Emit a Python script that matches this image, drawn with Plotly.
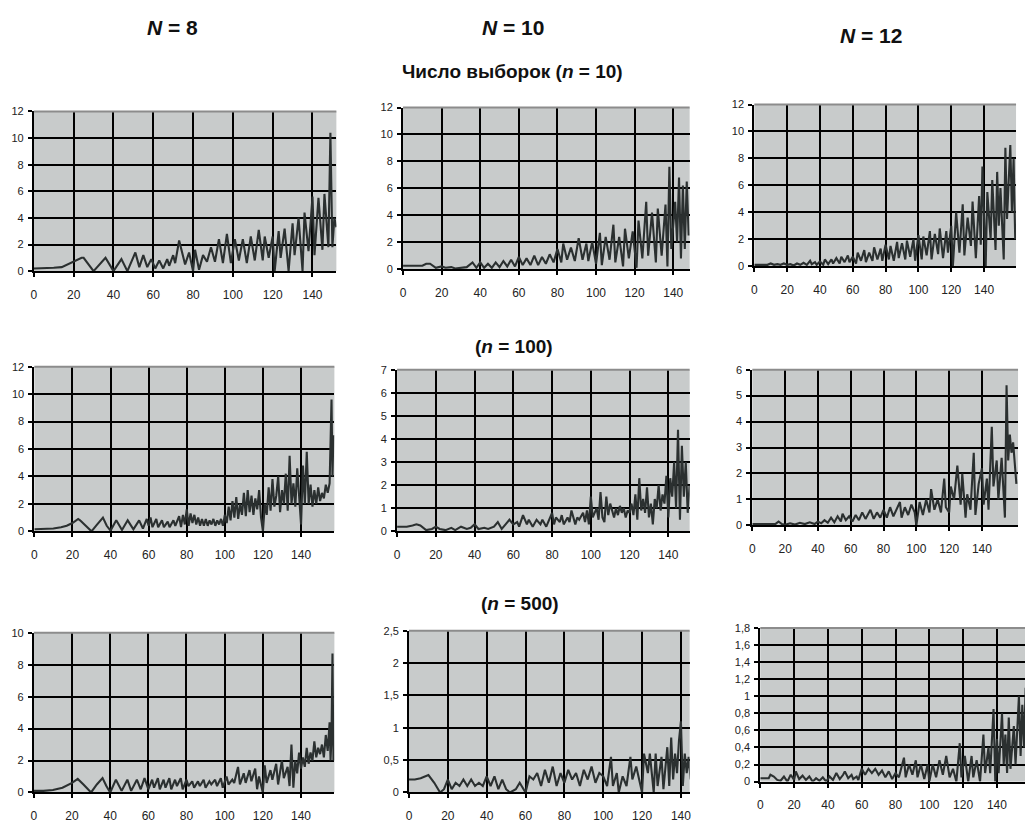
import plotly.graph_objects as go

# ---------------- data ----------------
# Row 1: n = 10
x_n8_s10 = [0, 5, 10, 14, 17, 20, 24, 25, 30, 36,
            40, 44, 47, 51, 53, 55, 57, 59, 61, 63,
            65, 67, 68, 70, 71, 73, 76, 78, 80, 81,
            83, 85, 87, 89, 91, 93, 95, 97, 99, 101,
            103, 105, 107, 109, 111, 113, 115, 116, 118, 120,
            121, 123, 124, 126, 128, 130, 131, 133, 135, 136,
            138, 140, 141, 143, 145, 146, 148, 149, 150, 151,
            152]
y_n8_s10 = [0.2, 0.2, 0.25, 0.3, 0.5, 0.7, 1.0, 1.0, 0.0, 1.0,
            0.0, 0.9, 0.0, 1.4, 0.3, 1.2, 0.3, 0.9, 0.2, 0.8,
            0.2, 0.9, 0.4, 1.2, 0.6, 2.3, 0.5, 1.4, 0.0, 1.6,
            0.1, 1.2, 0.7, 1.8, 0.7, 2.4, 0.6, 2.8, 0.6, 2.4,
            0.8, 2.4, 0.6, 2.6, 0.8, 3.1, 0.8, 2.6, 1.0, 2.6,
            0.0, 3.0, 1.0, 3.2, 0.0, 3.6, 1.2, 4.0, 0.0, 4.4,
            1.5, 5.6, 1.2, 5.5, 1.6, 5.8, 1.8, 10.4, 1.8, 4.0,
            3.3]

x_n10_s10 = [0, 5, 10, 12, 14, 17, 20, 22, 25, 27,
             30, 33, 36, 38, 40, 42, 44, 46, 48, 50,
             52, 54, 56, 58, 60, 62, 64, 66, 68, 70,
             72, 74, 76, 78, 80, 82, 83, 85, 87, 89,
             91, 93, 95, 96, 98, 100, 102, 103, 105, 107,
             109, 110, 112, 114, 115, 117, 119, 121, 122, 124,
             126, 127, 129, 131, 132, 134, 136, 137, 138, 139,
             141, 142, 143, 144, 145, 146, 147, 148]
y_n10_s10 = [0.25, 0.25, 0.25, 0.4, 0.4, 0.1, 0.2, 0.1, 0.15, 0.05,
             0.1, 0.15, 0.5, 0.1, 0.5, 0.1, 0.4, 0.1, 0.5, 0.15,
             0.6, 0.2, 0.7, 0.2, 0.9, 0.3, 0.8, 0.3, 1.0, 0.3,
             0.9, 0.4, 1.1, 0.5, 1.5, 0.5, 1.9, 0.7, 1.6, 0.6,
             2.3, 0.7, 1.9, 0.6, 2.0, 0.4, 2.7, 0.3, 2.4, 0.7,
             3.3, 0.5, 2.4, 0.2, 3.0, 0.8, 2.8, 0.1, 3.6, 0.8,
             5.0, 1.0, 4.2, 0.5, 4.5, 1.0, 4.8, 0.2, 7.6, 1.5,
             5.0, 2.0, 6.8, 0.8, 6.2, 1.5, 6.5, 2.5]

x_n12_s10 = [0, 3, 6, 8, 10, 12, 14, 16, 18, 20,
             22, 24, 26, 28, 30, 32, 34, 35, 37, 38,
             40, 42, 43, 45, 47, 48, 50, 52, 53, 55,
             57, 58, 60, 62, 63, 65, 67, 68, 70, 72,
             73, 75, 77, 78, 80, 82, 83, 85, 87, 88,
             90, 92, 93, 95, 97, 98, 100, 102, 103, 105,
             107, 108, 110, 112, 113, 115, 117, 118, 120, 121,
             123, 125, 127, 128, 130, 132, 133, 135, 137, 138,
             139, 141, 142, 144, 145, 147, 148, 149, 150, 152,
             153, 154, 156, 157, 158, 159]
y_n12_s10 = [0.1, 0.1, 0.15, 0.1, 0.2, 0.1, 0.15, 0.1, 0.2, 0.1,
             0.15, 0.05, 0.2, 0.1, 0.25, 0.1, 0.4, 0.15, 0.3, 0.1,
             0.35, 0.1, 0.5, 0.15, 0.5, 0.2, 0.6, 0.2, 0.7, 0.3,
             0.8, 0.3, 0.7, 0.2, 1.0, 0.4, 1.2, 0.3, 1.0, 0.4,
             1.4, 0.5, 1.3, 0.4, 1.6, 0.5, 1.5, 0.4, 1.8, 0.6,
             1.7, 0.5, 1.9, 0.7, 2.0, 0.4, 2.3, 0.5, 2.2, 0.8,
             2.6, 0.5, 2.4, 0.9, 2.8, 0.6, 2.6, 1.0, 3.0, 0.0,
             4.0, 1.0, 4.6, 0.8, 3.6, 1.5, 4.8, 0.6, 5.2, 1.6,
             7.4, 0.0, 5.5, 2.0, 6.4, 1.2, 7.0, 3.0, 5.8, 0.5,
             8.8, 3.5, 9.0, 4.0, 8.0, 2.0]

# Row 2: n = 100
x_n8_s100 = [0, 5, 10, 14, 17, 20, 23, 24, 27, 30,
             33, 36, 38, 40, 43, 46, 49, 52, 55, 57,
             59, 60, 61, 62, 64, 65, 67, 68, 70, 71,
             73, 74, 76, 77, 78, 79, 80, 81, 82, 83,
             84, 85, 86, 87, 88, 89, 90, 91, 92, 93,
             94, 95, 96, 97, 98, 99, 100, 101, 102, 103,
             104, 105, 106, 107, 108, 109, 110, 111, 112, 113,
             114, 115, 116, 117, 118, 119, 120, 121, 122, 123,
             124, 125, 126, 127, 128, 129, 130, 131, 132, 133,
             134, 135, 136, 137, 138, 139, 140, 141, 142, 143,
             144, 145, 146, 147, 148, 149, 150, 151, 152, 153,
             154, 155, 156, 156.5, 157]
y_n8_s100 = [0.15, 0.15, 0.2, 0.3, 0.4, 0.6, 0.9, 0.8, 0.4, 0.0,
             0.5, 1.0, 0.4, 0.05, 0.8, 0.1, 0.8, 0.15, 0.8, 0.2,
             0.9, 0.4, 1.0, 0.3, 0.9, 0.3, 0.8, 0.3, 0.7, 0.3,
             0.8, 0.4, 1.1, 0.3, 1.2, 0.5, 1.6, 0.4, 1.3, 0.6,
             1.2, 0.5, 1.0, 0.4, 0.9, 0.4, 0.9, 0.4, 0.8, 0.5,
             0.9, 0.4, 0.8, 0.5, 0.9, 0.4, 1.2, 0.6, 1.8, 0.8,
             2.2, 1.0, 2.5, 0.9, 2.0, 1.2, 2.8, 1.1, 3.0, 1.4,
             2.6, 1.2, 2.4, 1.6, 3.0, 1.0, 0.0, 2.0, 1.2, 3.2,
             1.5, 3.8, 1.8, 2.6, 4.0, 1.4, 3.0, 2.0, 4.2, 1.5,
             5.5, 2.0, 3.5, 1.8, 4.6, 2.2, 0.5, 4.8, 2.0, 5.8,
             2.0, 3.4, 1.8, 3.0, 2.0, 3.2, 2.2, 2.8, 2.4, 3.4,
             2.8, 3.5, 9.6, 4.0, 7.0]

x_n10_s100 = [0, 5, 8, 10, 12, 15, 18, 20, 22, 25,
              28, 30, 33, 36, 38, 40, 42, 45, 47, 50,
              52, 54, 56, 58, 60, 62, 63, 65, 67, 68,
              70, 72, 74, 75, 77, 78, 80, 81, 82, 84,
              85, 86, 88, 89, 90, 92, 93, 94, 96, 97,
              98, 99, 100, 101, 102, 103, 104, 105, 106, 107,
              108, 109, 110, 111, 112, 113, 114, 115, 116, 117,
              118, 119, 120, 121, 122, 123, 124, 125, 126, 127,
              128, 129, 130, 131, 132, 133, 134, 135, 136, 137,
              138, 139, 140, 141, 142, 143, 144, 145, 146, 147,
              148, 149, 150, 151]
y_n10_s100 = [0.2, 0.2, 0.25, 0.3, 0.25, 0.05, 0.1, 0.2, 0.1, 0.05,
              0.15, 0.05, 0.2, 0.1, 0.15, 0.3, 0.1, 0.15, 0.1, 0.2,
              0.4, 0.1, 0.3, 0.5, 0.3, 0.4, 0.2, 0.7, 0.3, 0.5,
              0.2, 0.5, 0.3, 0.5, 0.2, 0.4, 0.8, 0.3, 0.6, 0.4,
              0.7, 0.3, 0.6, 0.4, 0.9, 0.3, 0.6, 0.5, 0.8, 0.4,
              0.9, 0.3, 1.5, 0.6, 0.8, 1.0, 0.5, 1.7, 0.6, 0.4,
              1.5, 0.7, 1.2, 0.9, 0.6, 1.0, 0.7, 1.1, 0.8, 1.0,
              0.6, 0.9, 0.8, 1.2, 0.7, 1.6, 0.5, 2.3, 0.9, 1.4,
              0.8, 1.9, 0.6, 1.2, 0.3, 1.4, 1.0, 2.0, 0.9, 1.6,
              1.2, 2.4, 0.6, 2.3, 1.5, 3.0, 1.0, 4.4, 0.5, 3.7,
              1.5, 3.0, 0.8, 2.0]

x_n12_s100 = [0, 5, 10, 14, 16, 18, 20, 23, 26, 29,
              32, 35, 38, 40, 42, 44, 46, 48, 50, 52,
              54, 55, 57, 59, 61, 63, 65, 67, 69, 71,
              72, 74, 76, 78, 80, 82, 84, 86, 88, 90,
              91, 93, 95, 97, 99, 100, 102, 104, 106, 108,
              109, 111, 113, 115, 117, 118, 120, 121, 123, 125,
              127, 128, 130, 131, 133, 135, 136, 138, 140, 141,
              143, 144, 146, 147, 149, 150, 152, 154, 155, 156,
              157, 158, 159, 160, 161]
y_n12_s100 = [0.05, 0.05, 0.05, 0.05, 0.15, 0.05, 0.02, 0.08, 0.03, 0.1,
              0.05, 0.12, 0.05, 0.15, 0.08, 0.2, 0.1, 0.3, 0.12, 0.35,
              0.15, 0.45, 0.2, 0.35, 0.15, 0.4, 0.2, 0.5, 0.25, 0.45,
              0.6, 0.25, 0.5, 0.3, 0.6, 0.3, 0.7, 0.35, 0.6, 0.9,
              0.3, 0.7, 0.4, 0.8, 0.5, 0.0, 0.9, 0.4, 1.0, 0.5,
              1.4, 0.6, 1.0, 0.5, 1.8, 0.7, 0.5, 1.5, 1.0, 2.3,
              0.8, 2.0, 0.3, 1.2, 0.6, 2.8, 0.4, 1.6, 2.2, 0.8,
              1.8, 0.6, 3.8, 1.5, 2.5, 1.0, 2.6, 0.3, 5.4, 2.5,
              3.5, 2.8, 3.2, 2.4, 1.6]

# Row 3: n = 500
x_n8_s500 = [0, 5, 10, 15, 20, 23, 26, 30, 33, 36,
             38, 40, 43, 46, 49, 51, 54, 56, 58, 60,
             62, 63, 65, 66, 68, 69, 71, 72, 74, 75,
             77, 78, 80, 81, 83, 84, 86, 87, 89, 90,
             92, 93, 95, 96, 98, 99, 101, 102, 104, 105,
             107, 108, 110, 111, 113, 114, 116, 117, 118, 120,
             121, 122, 124, 125, 127, 128, 130, 131, 133, 134,
             135, 136, 137, 138, 139, 140, 141, 142, 143, 144,
             145, 146, 147, 148, 149, 150, 151, 152, 153, 154,
             155, 155.5, 156, 156.5, 157]
y_n8_s500 = [0.1, 0.1, 0.15, 0.3, 0.6, 0.85, 0.5, 0.0, 0.5, 0.9,
             0.4, 0.0, 0.8, 0.1, 0.8, 0.1, 0.8, 0.2, 0.9, 0.2,
             0.8, 0.3, 0.9, 0.2, 0.8, 0.3, 0.9, 0.2, 0.8, 0.4,
             0.9, 0.2, 0.8, 0.4, 0.7, 0.3, 0.7, 0.4, 0.8, 0.3,
             0.7, 0.5, 0.8, 0.4, 0.9, 0.3, 1.0, 0.5, 0.8, 0.6,
             1.6, 0.5, 1.2, 0.6, 1.4, 0.7, 1.5, 0.2, 1.0, 0.0,
             1.7, 0.6, 1.4, 0.8, 1.8, 0.5, 2.0, 0.9, 1.6, 0.4,
             3.0, 0.3, 2.0, 1.2, 2.5, 1.5, 2.2, 1.6, 2.8, 1.8,
             2.5, 2.0, 3.2, 2.2, 2.8, 2.4, 3.0, 2.2, 3.6, 2.6,
             4.4, 2.0, 3.5, 8.7, 2.0]

x_n10_s500 = [0, 3, 6, 9, 10, 13, 16, 18, 20, 22,
              24, 26, 28, 30, 32, 34, 36, 38, 40, 42,
              44, 46, 48, 50, 52, 55, 57, 60, 62, 64,
              66, 68, 70, 72, 74, 76, 78, 80, 82, 84,
              86, 88, 90, 92, 94, 96, 98, 100, 102, 104,
              105, 107, 108, 110, 112, 114, 115, 117, 119, 120,
              121, 123, 124, 126, 127, 128, 130, 131, 133, 134,
              135, 136, 137, 138, 139, 140, 141, 142, 143, 144,
              145]
y_n10_s500 = [0.2, 0.2, 0.22, 0.25, 0.27, 0.15, 0.0, 0.05, 0.2, 0.05,
              0.15, 0.1, 0.2, 0.1, 0.2, 0.1, 0.15, 0.1, 0.25, 0.1,
              0.25, 0.05, 0.2, 0.05, 0.0, 0.05, 0.15, 0.0, 0.25, 0.2,
              0.3, 0.1, 0.35, 0.15, 0.4, 0.1, 0.3, 0.15, 0.35, 0.2,
              0.3, 0.1, 0.35, 0.2, 0.4, 0.15, 0.3, 0.25, 0.1, 0.55,
              0.1, 0.3, 0.0, 0.25, 0.1, 0.55, 0.2, 0.4, 0.1, 0.0,
              0.6, 0.3, 0.6, 0.0, 0.6, 0.1, 0.55, 0.05, 0.7, 0.1,
              0.85, 0.2, 0.6, 0.3, 0.8, 1.1, 0.1, 0.6, 0.3, 0.55,
              0.2]

x_n12_s500 = [0, 3, 5, 6, 8, 10, 12, 14, 16, 18,
              20, 21, 23, 25, 27, 29, 31, 33, 35, 37,
              39, 41, 43, 45, 47, 49, 50, 52, 54, 55,
              57, 58, 60, 62, 64, 66, 68, 70, 72, 74,
              76, 78, 80, 82, 85, 86, 88, 90, 92, 93,
              95, 97, 99, 100, 102, 104, 106, 108, 110, 112,
              114, 116, 118, 119, 121, 123, 125, 126, 128, 130,
              132, 133, 135, 136, 138, 139, 140, 141, 143, 144,
              145, 146, 147, 148, 150, 151, 153, 154, 155, 156,
              157]
y_n12_s500 = [0.04, 0.04, 0.04, 0.08, 0.06, 0.02, 0.01, 0.06, 0.0, 0.08,
              0.02, 0.12, 0.03, 0.07, 0.02, 0.06, 0.0, 0.04, 0.01, 0.05,
              0.0, 0.06, 0.02, 0.1, 0.03, 0.08, 0.12, 0.04, 0.08, 0.03,
              0.06, 0.02, 0.15, 0.08, 0.15, 0.1, 0.15, 0.08, 0.13, 0.05,
              0.12, 0.03, 0.1, 0.05, 0.28, 0.05, 0.2, 0.08, 0.25, 0.05,
              0.2, 0.03, 0.2, 0.0, 0.2, 0.05, 0.25, 0.08, 0.3, 0.05,
              0.15, 0.0, 0.45, 0.05, 0.3, 0.0, 0.3, 0.05, 0.25, 0.0,
              0.55, 0.1, 0.4, 0.1, 0.85, 0.0, 0.5, 0.1, 0.8, 0.2,
              0.55, 0.1, 0.75, 0.15, 0.65, 0.2, 1.0, 0.3, 0.9, 0.4,
              1.1]

# tick labels
x_ticks = [0, 20, 40, 60, 80, 100, 120, 140]
y_ticks_12 = [0, 2, 4, 6, 8, 10, 12]
y_ticks_7 = [0, 1, 2, 3, 4, 5, 6, 7]
y_ticks_6 = [0, 1, 2, 3, 4, 5, 6]
y_ticks_10 = [0, 2, 4, 6, 8, 10]
y_ticks_25 = [0, 0.5, 1, 1.5, 2, 2.5]
y_text_25 = ["0", "0,5", "1", "1,5", "2", "2,5"]
y_ticks_18 = [0, 0.2, 0.4, 0.6, 0.8, 1, 1.2, 1.4, 1.6, 1.8]
y_text_18 = ["0", "0,2", "0,4", "0,6", "0,8", "1", "1,2", "1,4", "1,6", "1,8"]

col_titles = ["<b><i>N</i> = 8</b>", "<b><i>N</i> = 10</b>", "<b><i>N</i> = 12</b>"]
row_titles = ["<b>Число выборок (<i>n</i> = 10)</b>", "<b>(<i>n</i> = 100)</b>", "<b>(<i>n</i> = 500)</b>"]

# ---------------- layout / styling ----------------
W, H = 1027, 830
series = [
    (x_n8_s10, y_n8_s10), (x_n10_s10, y_n10_s10), (x_n12_s10, y_n12_s10),
    (x_n8_s100, y_n8_s100), (x_n10_s100, y_n10_s100), (x_n12_s100, y_n12_s100),
    (x_n8_s500, y_n8_s500), (x_n10_s500, y_n10_s500), (x_n12_s500, y_n12_s500),
]
# plot-area pixel boxes: left, right, top, bottom
boxes = [
    (31, 335, 107, 269), (402, 690, 103, 267), (755, 1018, 100, 264),
    (31.5, 333, 366, 533), (396, 690, 369, 533), (753, 1020, 369, 527),
    (31, 333, 636, 798), (408, 690, 634, 798), (761, 1027, 631, 787),
]
x_max = [152, 148.5, 159.5, 157.5, 151, 162, 157.5, 144.5, 156.6]
y_axes = [
    (y_ticks_12, None, 12), (y_ticks_12, None, 12), (y_ticks_12, None, 12),
    (y_ticks_12, None, 12), (y_ticks_7, None, 7), (y_ticks_6, None, 6),
    (y_ticks_10, None, 10), (y_ticks_25, y_text_25, 2.5), (y_ticks_18, y_text_18, 1.8),
]

tick_family = "Liberation Sans Narrow, Arial Narrow, Liberation Sans, Arial, sans-serif"
title_family = "Liberation Sans Narrow, Arial Narrow, Liberation Sans, Arial, sans-serif"

fig = go.Figure()
layout = dict(
    width=W, height=H, margin=dict(l=0, r=0, t=0, b=0),
    paper_bgcolor="white", plot_bgcolor="#c8cbcb", showlegend=False,
    shapes=[], annotations=[],
)

for i, ((xs, ys), (l, r, t, b), xm, (yt, ytx, ym)) in enumerate(zip(series, boxes, x_max, y_axes)):
    k = i + 1
    sx = "" if k == 1 else str(k)
    xa, ya = "x" + sx, "y" + sx
    fig.add_trace(go.Scatter(
        x=xs, y=ys, mode="lines", xaxis=xa, yaxis=ya,
        line=dict(color="#2b3030", width=2.1), hoverinfo="skip",
    ))
    layout["xaxis" + sx] = dict(
        domain=[l / W, r / W], anchor=ya, range=[0, xm],
        tickvals=x_ticks, ticks="outside", ticklen=4, tickwidth=2, tickcolor="black",
        showline=True, linecolor="black", linewidth=2,
        showgrid=True, gridcolor="black", gridwidth=2.2, zeroline=False,
        tickfont=dict(family=tick_family, size=12, color="#222"),
        ticklabelstandoff=7, fixedrange=True,
    )
    yax = dict(
        domain=[1 - b / H, 1 - t / H], anchor=xa, range=[0, ym],
        tickvals=yt, ticks="outside", ticklen=4, tickwidth=2, tickcolor="black",
        showline=True, linecolor="black", linewidth=2,
        showgrid=True, gridcolor="black", gridwidth=2.2, zeroline=False,
        tickfont=dict(family=tick_family, size=11, color="#222"),
        ticklabelstandoff=2, fixedrange=True,
    )
    if ytx is not None:
        yax["ticktext"] = ytx
    layout["yaxis" + sx] = yax
    # light top border of the plot area
    layout["shapes"].append(dict(
        type="line", xref=xa + " domain", yref=ya + " domain",
        x0=0, x1=1, y0=1, y1=1, line=dict(color="#8c8c8c", width=2), layer="above",
    ))

col_pos = [(170, 22), (512, 22), (872, 30)]
for txt, (px, py) in zip(col_titles, col_pos):
    layout["annotations"].append(dict(
        text=txt, x=px / W, y=1 - py / H, xref="paper", yref="paper",
        xanchor="center", yanchor="middle", showarrow=False,
        font=dict(family=title_family, size=21, color="#111"),
    ))
row_pos = [(512, 66), (514, 346), (520, 606)]
for txt, (px, py) in zip(row_titles, row_pos):
    layout["annotations"].append(dict(
        text=txt, x=px / W, y=1 - py / H, xref="paper", yref="paper",
        xanchor="center", yanchor="middle", showarrow=False,
        font=dict(family=title_family, size=19, color="#111"),
    ))

fig.update_layout(**layout)
fig.write_html("out.html")
